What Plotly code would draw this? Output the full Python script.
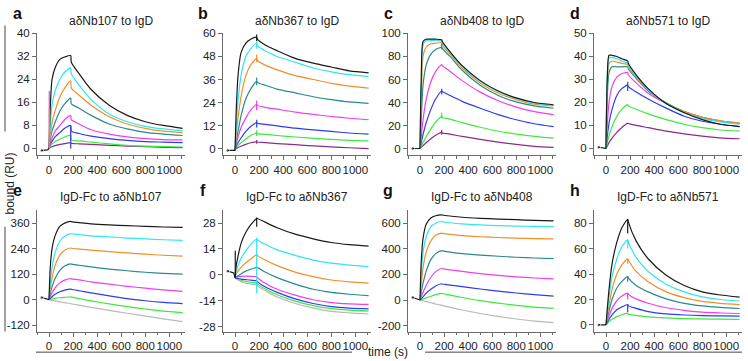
import plotly.graph_objects as go

# ---------------- data ----------------
T_BASE = [-60, -10, 0]
T_CURVE = [0, 10, 25, 50, 90, 130, 180, 185, 250, 350, 500, 650, 800, 950, 1110]

COLORS = {
    "black": "#1a1a1a", "cyan": "#2fe6ee", "orange": "#f08f2a", "teal": "#2a8a8c",
    "magenta": "#f23cf0", "blue": "#2b3cf2", "green": "#3ee83e", "purple": "#8c2a8c",
    "gray": "#b8b8b8",
}

titles = ["aδNb107 to IgD", "aδNb367 to IgD", "aδNb408 to IgD", "aδNb571 to IgD",
          "IgD-Fc to aδNb107", "IgD-Fc to aδNb367", "IgD-Fc to aδNb408", "IgD-Fc to aδNb571"]
letters = ["a", "b", "c", "d", "e", "f", "g", "h"]

yticks = [[0, 8, 16, 24, 32, 40], [0, 12, 24, 36, 48, 60], [0, 20, 40, 60, 80, 100],
          [0, 10, 20, 30, 40, 50], [-120, 0, 120, 240, 360], [-28, -14, 0, 14, 28],
          [-200, 0, 200, 400, 600], [0, 20, 40, 60, 80]]
yranges = [[-2.3, 40], [-3.4, 60], [-5.7, 100], [-2.9, 50],
           [-150, 422], [-30.7, 35.1], [-246, 703], [-5.2, 90.3]]
xticks = [0, 200, 400, 600, 800, 1000]

base_a = [-0.7, -0.5, 0]
curves_a = {
    "black":   [0, 14, 24, 28, 31, 31.8, 32.3, 30, 26, 20.5, 15, 11.5, 9.3, 8, 7],
    "cyan":    [0, 8, 15, 20, 24, 26.5, 28, 26, 22, 17, 12, 9.3, 7.7, 6.8, 6.2],
    "orange":  [0, 5, 9, 13, 18, 21, 23.5, 21, 18.5, 15, 11, 8.5, 7, 6, 5.5],
    "teal":    [0, 3, 6, 9, 13, 15.5, 17.5, 15.5, 14, 11.5, 8.5, 6.8, 5.6, 5, 4.5],
    "magenta": [0, 2, 3.5, 6, 8, 10, 11.5, 10, 8.5, 6.5, 5, 4, 3.4, 3.1, 3],
    "blue":    [0, 1.5, 2.5, 4, 5.5, 7, 8, 6, 5.2, 4.3, 3.4, 2.8, 2.4, 2.2, 2],
    "green":   [0, 0.8, 1.5, 2.3, 3.2, 4, 4.5, 3, 2.6, 2.2, 1.6, 1.1, 0.8, 0.6, 0.5],
    "purple":  [0, 0.3, 0.6, 1, 1.4, 1.7, 2, 1.8, 1.6, 1.4, 1.1, 0.8, 0.6, 0.4, 0.3],
}
base_b = [-1, -1, -1]
curves_b = {
    "black":   [-1, 20, 38, 50, 55, 57, 58, 57, 54, 51, 47, 44.5, 42.5, 40.5, 39.5],
    "cyan":    [-1, 12, 25, 38, 48, 52, 55, 53.5, 51, 48, 45, 42, 40, 38.5, 37.5],
    "orange":  [-1, 7, 16, 27, 38, 43.5, 47, 46, 43.5, 41, 38, 36, 34, 32.5, 31.5],
    "teal":    [-1, 4, 9, 17, 26, 31, 35, 34.5, 33, 31, 29, 27, 25.5, 24.3, 23.5],
    "magenta": [-1, 2.5, 6, 11, 16, 20, 23, 22.5, 21.5, 20.5, 19, 17.8, 16.7, 15.8, 15],
    "blue":    [-1, 1.2, 3, 5.5, 9, 11.5, 13.5, 13.2, 12.6, 11.8, 10.6, 9.7, 8.9, 8.1, 7.5],
    "green":   [-1, 0.5, 1.5, 3, 5, 6.8, 8, 7.8, 7.4, 6.8, 6, 5.3, 4.8, 4.3, 4],
    "purple":  [-1, 0, 0.5, 1.2, 2.2, 3, 3.5, 3.4, 3.1, 2.6, 2, 1.4, 0.9, 0.4, 0],
}
base_c = [0, 0, 0]
curves_c = {
    "black":   [0, 60, 93, 95, 95, 95, 94.5, 93, 84, 72, 59, 50, 44, 40, 38],
    "cyan":    [0, 55, 90, 94, 94, 94, 93.5, 92, 83.5, 71.5, 58.5, 49.5, 43.5, 39.5, 37.5],
    "orange":  [0, 40, 80, 88, 91, 91.5, 92, 90, 82, 70, 57, 48, 42.5, 38.5, 37],
    "teal":    [0, 25, 55, 72, 82, 86, 88, 87, 80, 68, 55, 46, 40.5, 37, 35],
    "magenta": [0, 10, 25, 42, 58, 67, 73, 72, 67, 59, 49, 41.5, 36, 32, 29.5],
    "blue":    [0, 5, 12, 22, 34, 43, 50, 49.5, 46, 41, 35, 29.5, 25, 21.5, 19],
    "green":   [0, 2, 5, 10, 17, 23, 28, 27, 25.5, 22.5, 18.5, 15, 12.5, 10.5, 9],
    "purple":  [0, 1, 2.5, 5, 8.5, 11.5, 14, 13.5, 12.5, 10.5, 8, 5.5, 3.5, 1.8, 1],
}
base_d = [0.5, 0, 0]
curves_d = {
    "black":   [0, 30, 40.5, 40.5, 40, 39, 38, 37, 32, 26, 19.5, 15.5, 12.5, 10.5, 9.5],
    "cyan":    [0, 30, 39.5, 39.5, 39, 38, 37, 36, 31.5, 25.5, 19.5, 15.5, 13, 11.5, 10.5],
    "orange":  [0, 28, 37, 38, 37.5, 37, 36.5, 35.5, 31, 25.5, 19.5, 16, 13.5, 12, 11],
    "teal":    [0, 22, 33, 35.5, 35.5, 35.5, 35.5, 34.5, 30.5, 25, 19.8, 16, 13.5, 12, 11],
    "magenta": [0, 10, 20, 27, 31, 32.5, 33, 32, 28.5, 24, 19.5, 16, 13.5, 11.8, 10.8],
    "blue":    [0, 5, 11, 17, 23, 26, 27.5, 27, 24.5, 21.5, 17.5, 14, 11.8, 10.5, 9.5],
    "green":   [0, 2.5, 5.5, 9.5, 14, 17, 19, 18.5, 17, 15, 12.5, 10.5, 9, 8, 7.5],
    "purple":  [0, 1, 2.5, 4.5, 7, 9, 11, 10.8, 10, 9, 7.5, 6.3, 5.3, 4.6, 4.2],
}
base_e = [10, 2, 0]
curves_e = {
    "black":   [0, 150, 240, 300, 345, 360, 368, 367, 362, 357, 352, 348, 345, 342, 340],
    "cyan":    [0, 80, 150, 220, 275, 298, 311, 310, 306, 300, 295, 290, 286, 282, 279],
    "orange":  [0, 50, 100, 160, 210, 232, 243, 242, 238, 233, 226, 220, 214, 209, 205],
    "teal":    [0, 30, 60, 100, 138, 158, 168, 167, 162, 154, 144, 136, 129, 124, 120],
    "magenta": [0, 15, 32, 56, 79, 92, 99, 98, 93, 84, 73, 63, 54, 46, 39],
    "blue":    [0, 6, 14, 25, 37, 45, 50, 49, 42, 32, 18, 5, -5, -13, -19],
    "green":   [0, 1, 3, 6, 9, 11, 13, 12, 5, -6, -20, -33, -44, -54, -61],
    "gray":    [0, -1, -3, -6, -10, -14, -18, -19, -26, -36, -50, -64, -77, -90, -103],
}
base_f = [2, 1, -1.5]
curves_f = {
    "black":   [-1.5, 5, 10, 17, 23, 27, 30.5, 30.5, 28.5, 25.5, 22, 19.5, 17.5, 16.3, 15.5],
    "cyan":    [-1.5, 2, 5, 9, 13, 16.5, 19.3, 19, 16.5, 13.5, 10.5, 8, 6.3, 5.3, 4.5],
    "orange":  [-1.5, 0.5, 2, 4, 6.5, 8.5, 11, 10.5, 8, 5, 1.5, -1, -2.8, -3.8, -4.5],
    "teal":    [-1.5, -1, -0.5, 0.5, 2, 3, 4, 4, 1.5, -1.5, -5, -7.8, -9.5, -10.5, -11.3],
    "magenta": [-1.5, -1.2, -1, -0.8, -0.7, -0.8, -1, -1.5, -4.5, -7.8, -11, -13.5, -15, -15.7, -16],
    "blue":    [-1.5, -1.8, -2, -2.3, -2.6, -2.9, -3.2, -3.7, -6.5, -9.5, -13, -15.5, -17.2, -18, -18.4],
    "green":   [-1.5, -2, -2.4, -3, -3.6, -4, -4.5, -5, -7.5, -10.8, -14.2, -16.7, -18.3, -19.1, -19.6],
    "gray":    [-1.5, -2.1, -2.7, -3.6, -4.5, -5, -5.5, -6, -8.5, -12, -15.5, -18, -19.8, -20.6, -21.2],
}
base_g = [20, 5, 0]
curves_g = {
    "black":   [0, 300, 480, 590, 640, 658, 665, 664, 656, 646, 638, 632, 627, 622, 618],
    "cyan":    [0, 200, 370, 490, 572, 600, 613, 611, 603, 594, 586, 581, 577, 575, 574],
    "orange":  [0, 120, 250, 370, 462, 505, 522, 521, 512, 503, 494, 488, 484, 480, 478],
    "teal":    [0, 60, 130, 222, 315, 362, 385, 384, 374, 362, 351, 342, 334, 328, 323],
    "magenta": [0, 25, 60, 112, 178, 222, 246, 245, 236, 223, 206, 192, 181, 172, 165],
    "blue":    [0, 10, 25, 52, 84, 110, 127, 126, 117, 104, 86, 70, 55, 42, 31],
    "green":   [0, 2, 8, 17, 30, 42, 52, 51, 38, 20, -4, -24, -41, -55, -65],
    "gray":    [0, -3, -7, -12, -21, -31, -41, -42, -57, -78, -105, -128, -148, -165, -176],
}
base_h = [0, 0, 0]
curves_h = {
    "black":   [0, 12, 28, 48, 65, 76, 83, 81, 66, 52, 39, 31, 26, 23.5, 21.9],
    "cyan":    [0, 10, 22, 38, 52, 61, 67, 65, 53, 42, 32, 26, 22, 20, 18.8],
    "orange":  [0, 7, 16, 28, 40, 47, 52, 51, 42, 34, 26, 21.5, 18.5, 17, 16],
    "teal":    [0, 5, 11, 20, 29, 34, 38, 37, 31, 26, 20.5, 17, 15, 13.8, 12.9],
    "magenta": [0, 3, 7, 13, 19, 22.5, 25, 24, 20.5, 17, 13.5, 11.5, 10, 9.4, 9],
    "blue":    [0, 2, 4.5, 8, 12, 14, 16, 15, 13, 10.5, 8.7, 7.8, 7.3, 7.1, 7],
    "green":   [0, 1, 2.5, 4.5, 6.5, 8, 9, 8.5, 7.5, 6.3, 5.5, 5, 4.7, 4.5, 4.4],
}

# injection artefacts: (time, low, high, colour)
spikes_a = [(2, 0, 20, "magenta"), (2, 0, 14, "orange"), (180, 0, 8, "blue")]
spikes_b = [(180, 56, 59.5, "black"), (180, 52, 56, "cyan"), (180, 45, 49, "orange"),
            (180, 33, 37, "teal"), (180, 20, 25, "magenta"), (180, 11, 15, "blue"),
            (180, 6.5, 9.5, "green"), (180, 2.5, 4.5, "purple")]
spikes_c = [(180, 86, 91, "teal"), (180, 47, 52, "blue"), (180, 26, 31, "green"),
            (180, 12, 16, "purple")]
spikes_d = [(180, 25, 29, "blue")]
spikes_e = []
spikes_f = [(2, -1.5, 13, "black"), (180, -10, 20, "cyan"), (180, 26, 31, "black")]
spikes_g = []
spikes_h = [(180, 72, 83, "black"), (180, 60, 67, "cyan"), (180, 48, 52, "orange"),
            (180, 34, 38, "teal"), (180, 20, 25, "magenta"), (180, 10, 16, "blue")]

bases = [base_a, base_b, base_c, base_d, base_e, base_f, base_g, base_h]
curves = [curves_a, curves_b, curves_c, curves_d, curves_e, curves_f, curves_g, curves_h]
spikes = [spikes_a, spikes_b, spikes_c, spikes_d, spikes_e, spikes_f, spikes_g, spikes_h]

# ---------------- layout geometry (pixels) ----------------
W, H = 748, 361
col_x = [(37, 185), (223, 371), (408, 556), (594, 742)]
row_y = [(28, 152), (208, 332)]

def px(x):
    return x / W

def py(y):
    return 1 - y / H

fig = go.Figure()
FONT = "Liberation Sans, Arial, sans-serif"
annotations = []
shapes = []

for i in range(8):
    r, c = divmod(i, 4)
    n = i + 1
    xa = "x" if n == 1 else f"x{n}"
    ya = "y" if n == 1 else f"y{n}"
    names = list(curves[i].keys())
    for name in reversed(names):
        fig.add_trace(go.Scatter(
            x=T_CURVE, y=curves[i][name], mode="lines",
            line=dict(color=COLORS[name], width=1.2, shape="spline", smoothing=0.7),
            xaxis=xa, yaxis=ya, showlegend=False, hoverinfo="skip"))
    for (t, lo, hi, col) in spikes[i]:
        fig.add_trace(go.Scatter(
            x=[t, t], y=[lo, hi], mode="lines",
            line=dict(color=COLORS[col], width=1.2),
            xaxis=xa, yaxis=ya, showlegend=False, hoverinfo="skip"))
    fig.add_trace(go.Scatter(
        x=T_BASE, y=bases[i], mode="lines+markers",
        line=dict(color=COLORS["black"], width=1.2),
        marker=dict(size=[3.5, 0, 0], color=COLORS["black"]),
        xaxis=xa, yaxis=ya, showlegend=False, hoverinfo="skip"))

    x0, x1 = col_x[c]
    y0, y1 = row_y[r]
    axis_common = dict(showline=True, linecolor="#6b6b6b", linewidth=1, ticks="outside",
                       ticklen=4, tickwidth=1, tickcolor="#6b6b6b", showgrid=False,
                       zeroline=False, tickfont=dict(family=FONT, size=11.5, color="#222"))
    fig.update_layout(**{
        ("xaxis" if n == 1 else f"xaxis{n}"): dict(
            domain=[px(x0), px(x1)], anchor=ya, range=[-100, 1130],
            tickvals=xticks, ticktext=[str(v) for v in xticks], tickangle=0,
            minor=dict(dtick=100, tick0=0, ticks="outside", ticklen=2.5, tickcolor="#6b6b6b"),
            **axis_common),
        ("yaxis" if n == 1 else f"yaxis{n}"): dict(
            domain=[py(y1), py(y0)], anchor=xa, range=yranges[i],
            tickvals=yticks[i], ticktext=[str(v) for v in yticks[i]],
            **axis_common),
    })
    ty = 15 if r == 0 else 195
    annotations.append(dict(x=px((x0 + x1) / 2), y=py(ty), xref="paper", yref="paper",
                            text=titles[i], showarrow=False, xanchor="center", yanchor="middle",
                            font=dict(family=FONT, size=12, color="#222")))
    lx = [17, 203, 388, 575][c]
    ly = 8 if r == 0 else 188
    annotations.append(dict(x=px(lx), y=py(ly), xref="paper", yref="paper",
                            text=f"<b>{letters[i]}</b>", showarrow=False, xanchor="center",
                            yanchor="middle", font=dict(family=FONT, size=16, color="#111")))

annotations.append(dict(x=px(10), y=py(181), xref="paper", yref="paper", text="bound (RU)",
                        textangle=-90, showarrow=False, xanchor="center", yanchor="middle",
                        font=dict(family=FONT, size=12, color="#222")))
annotations.append(dict(x=px(388), y=py(353), xref="paper", yref="paper", text="time (s)",
                        showarrow=False, xanchor="center", yanchor="middle",
                        font=dict(family=FONT, size=12, color="#222")))

line_style = dict(color="#444", width=1)
shapes.append(dict(type="line", xref="paper", yref="paper", x0=px(5), x1=px(5),
                   y0=py(20), y1=py(128), line=line_style))
shapes.append(dict(type="line", xref="paper", yref="paper", x0=px(5), x1=px(5),
                   y0=py(225), y1=py(332), line=line_style))
shapes.append(dict(type="line", xref="paper", yref="paper", x0=px(36), x1=px(352),
                   y0=py(353), y1=py(353), line=line_style))
shapes.append(dict(type="line", xref="paper", yref="paper", x0=px(425), x1=px(742),
                   y0=py(353), y1=py(353), line=line_style))

fig.update_layout(width=W, height=H, margin=dict(l=0, r=0, t=0, b=0),
                  paper_bgcolor="white", plot_bgcolor="white",
                  annotations=annotations, shapes=shapes,
                  font=dict(family=FONT, size=12, color="#222"))

fig.write_html("out.html")
